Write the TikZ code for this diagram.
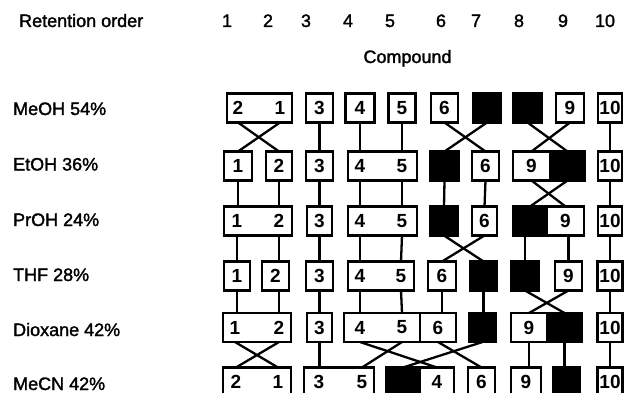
\documentclass[tikz,border=0pt]{standalone}
\usepackage{fontspec}
\setmainfont{Liberation Sans}
\newfontfamily\medsans[FakeBold=1.6]{Liberation Sans}
\newcommand\bxfont{\fontsize{19}{21}\selectfont\bfseries}
\newcommand\lbfont{\fontsize{18}{20}\selectfont\medsans}
\begin{document}
\begin{tikzpicture}[x=1pt,y=-1pt,line width=2.3pt,
  wb/.style={draw,fill=white,minimum height=29pt,inner sep=0pt,outer sep=0pt,font=\bxfont},
  bb/.style={draw,fill=black,minimum height=29pt,inner sep=0pt,outer sep=0pt},
  tx/.style={inner sep=0pt,font=\bxfont},
  lab/.style={inner sep=0pt,anchor=base west,font=\lbfont},
  hd/.style={inner sep=0pt,anchor=base,font=\lbfont},
  conn/.style={line width=2.3pt}]
\useasboundingbox (0,0) rectangle (626,393);
% header
\node[lab] (hro) at (18,27) {Retention order};
\node[hd] (h1) at (227,27) {1};
\node[hd] (h2) at (268,27) {2};
\node[hd] (h3) at (306,27) {3};
\node[hd] (h4) at (348,27) {4};
\node[hd] (h5) at (390,27) {5};
\node[hd] (h6) at (441,27) {6};
\node[hd] (h7) at (476,27) {7};
\node[hd] (h8) at (519,27) {8};
\node[hd] (h9) at (563,27) {9};
\node[hd] (h10) at (605,27) {10};
\node[hd] (hc) at (407.5,63) {Compound};
% row labels
\node[lab] (l1) at (12,115) {MeOH 54\%};
\node[lab] (l2) at (12,170.5) {EtOH 36\%};
\node[lab] (l3) at (12,226) {PrOH 24\%};
\node[lab] (l4) at (12,281) {THF 28\%};
\node[lab] (l5) at (12,336) {Dioxane 42\%};
\node[lab] (l6) at (12,390) {MeCN 42\%};
% row 1
\node[wb,minimum width=65pt] (r1a) at (259.5,108) {};
\node[tx] (r1a2) at (238,108) {2};
\node[tx] (r1a1) at (280,108) {1};
\node[wb,minimum width=27pt] (r1b) at (319.5,108) {3};
\node[wb,minimum width=29pt] (r1c) at (360,108) {4};
\node[wb,minimum width=27pt] (r1d) at (402,108) {5};
\node[wb,minimum width=27pt] (r1e) at (444.5,108) {6};
\node[bb,minimum width=28pt] (r1f) at (487,108) {};
\node[bb,minimum width=29pt] (r1g) at (527.5,108) {};
\node[wb,minimum width=28pt] (r1h) at (570,108) {9};
\node[wb,minimum width=24pt] (r1i) at (610,108) {10};
% row 2
\node[wb,minimum width=28pt] (r2a) at (238,166) {1};
\node[wb,minimum width=26pt] (r2b) at (279,166) {2};
\node[wb,minimum width=27pt] (r2c) at (319.5,166) {3};
\node[wb,minimum width=69pt] (r2d) at (382.5,166) {};
\node[tx] (r2d4) at (360,166) {4};
\node[tx] (r2d5) at (402,166) {5};
\node[bb,minimum width=29pt] (r2e) at (444.5,166) {};
\node[wb,minimum width=27pt] (r2f) at (485.5,166) {6};
\node[wb,minimum width=37pt] (r2g) at (531.5,166) {9};
\node[bb,minimum width=35pt] (r2h) at (567.5,166) {};
\node[wb,minimum width=24pt] (r2i) at (610,166) {10};
% row 3
\node[wb,minimum width=68pt] (r3a) at (258,221) {};
\node[tx] (r3a1) at (237,221) {1};
\node[tx] (r3a2) at (279,221) {2};
\node[wb,minimum width=25pt] (r3b) at (319.5,221) {3};
\node[wb,minimum width=69pt] (r3c) at (382.5,221) {};
\node[tx] (r3c4) at (360,221) {4};
\node[tx] (r3c5) at (402,221) {5};
\node[bb,minimum width=28pt] (r3d) at (444,221) {};
\node[wb,minimum width=25pt] (r3e) at (484.5,221) {6};
\node[bb,minimum width=34pt] (r3f) at (530,221) {};
\node[wb,minimum width=37pt] (r3g) at (565.5,221) {9};
\node[wb,minimum width=24pt] (r3h) at (610,221) {10};
% row 4
\node[wb,minimum width=26pt] (r4a) at (237,276) {1};
\node[wb,minimum width=27pt] (r4b) at (275.5,276) {2};
\node[wb,minimum width=27pt] (r4c) at (319.5,276) {3};
\node[wb,minimum width=66pt] (r4d) at (381,276) {};
\node[tx] (r4d4) at (360,276) {4};
\node[tx] (r4d5) at (401,276) {5};
\node[wb,minimum width=28pt] (r4e) at (442,276) {6};
\node[bb,minimum width=27pt] (r4f) at (483.5,276) {};
\node[bb,minimum width=28pt] (r4g) at (525,276) {};
\node[wb,minimum width=27pt] (r4h) at (568.5,276) {9};
\node[wb,minimum width=25pt] (r4i) at (610,276) {10};
% row 5
\node[wb,minimum width=68pt] (r5a) at (257,327.5) {};
\node[tx] (r5a1) at (235,327.5) {1};
\node[tx] (r5a2) at (279,327.5) {2};
\node[wb,minimum width=25pt] (r5b) at (319.5,327.5) {3};
\node[wb,minimum width=76pt] (r5c) at (382,327.5) {};
\node[tx] (r5c4) at (360,327.5) {4};
\node[tx] (r5c5) at (402,327.5) {5};
\node[wb,minimum width=36pt] (r5d) at (438,327.5) {6};
\node[bb,minimum width=27pt] (r5e) at (482.5,327.5) {};
\node[wb,minimum width=36pt] (r5f) at (529,327.5) {9};
\node[bb,minimum width=35pt] (r5g) at (564.5,327.5) {};
\node[wb,minimum width=25pt] (r5h) at (610,327.5) {10};
% row 6
\node[wb,minimum width=68pt] (r6a) at (257,382) {};
\node[tx] (r6a2) at (236,382) {2};
\node[tx] (r6a1) at (278,382) {1};
\node[wb,minimum width=70pt] (r6b) at (339,382) {};
\node[tx] (r6b3) at (319,382) {3};
\node[tx] (r6b5) at (362,382) {5};
\node[bb,minimum width=34pt] (r6c) at (403,382) {};
\node[wb,minimum width=34pt] (r6d) at (437,382) {4};
\node[wb,minimum width=27pt] (r6e) at (481.5,382) {6};
\node[wb,minimum width=30pt] (r6f) at (526,382) {9};
\node[bb,minimum width=27pt] (r6g) at (566.5,382) {};
\node[wb,minimum width=25pt] (r6h) at (610,382) {10};
% connectors row1 -> row2
\draw[conn] (r1a2 |- r1a.south) -- (r2b.north);
\draw[conn] (r1a1 |- r1a.south) -- (r2a.north);
\draw[conn] (r1b.south) -- (r2c.north);
\draw[conn] (r1c.south) -- (r2d4 |- r2d.north);
\draw[conn] (r1d.south) -- (r2d5 |- r2d.north);
\draw[conn] (r1e.south) -- (r2f.north);
\draw[conn] (r1f.south) -- (r2e.north);
\draw[conn] (r1g.south) -- (r2h.north);
\draw[conn] (r1h.south) -- (r2g.north);
\draw[conn] (r1i.south) -- (r2i.north);
% row2 -> row3
\draw[conn] (r2a.south) -- (r2a |- r3a.north);
\draw[conn] (r2b.south) -- (r2b |- r3a.north);
\draw[conn] (r2c.south) -- (r3b.north);
\draw[conn] (r2d4 |- r2d.south) -- (r3c4 |- r3c.north);
\draw[conn] (r2d5 |- r2d.south) -- (r3c5 |- r3c.north);
\draw[conn] (r2e.south) -- (r3d.north);
\draw[conn] (r2f.south) -- (r3e.north);
\draw[conn] (r2g.south) -- (r3g.north);
\draw[conn] (r2h.south) -- (r3f.north);
\draw[conn] (r2i.south) -- (r3h.north);
% row3 -> row4
\draw[conn] (r3a1 |- r3a.south) -- (r4a.north);
\draw[conn] (r3a2 |- r3a.south) -- (r3a2 |- r4b.north);
\draw[conn] (r3b.south) -- (r4c.north);
\draw[conn] (r3c4 |- r3c.south) -- (r4d4 |- r4d.north);
\draw[conn] (r3c5 |- r3c.south) -- (r4d5 |- r4d.north);
\draw[conn] (r3d.south) -- (r4f.north);
\draw[conn] (r3e.south) -- (r4e.north);
\draw[conn] (r4g |- r3f.south) -- (r4g.north);
\draw[conn] (r4h |- r3g.south) -- (r4h.north);
\draw[conn] (r3h.south) -- (r4i.north);
% row4 -> row5
\draw[conn] (r4a.south) -- (r4a |- r5a.north);
\draw[conn] (r5a2 |- r4b.south) -- (r5a2 |- r5a.north);
\draw[conn] (r4c.south) -- (r5b.north);
\draw[conn] (r4d4 |- r4d.south) -- (r5c4 |- r5c.north);
\draw[conn] (r4d5 |- r4d.south) -- (r5c5 |- r5c.north);
\draw[conn] (r4e.south) -- (r4e |- r5d.north);
\draw[conn] (r4f.south) -- (r4f |- r5e.north);
\draw[conn] (r4g.south) -- (r5g.north);
\draw[conn] (r4h.south) -- (r5f.north);
\draw[conn] (r4i.south) -- (r5h.north);
% row5 -> row6
\draw[conn] (r5a1 |- r5a.south) -- (r6a1 |- r6a.north);
\draw[conn] (r5a2 |- r5a.south) -- (r6a2 |- r6a.north);
\draw[conn] (r5b.south) -- (r5b |- r6b.north);
\draw[conn] (r5c4 |- r5c.south) -- (r6d.north);
\draw[conn] (r5c5 |- r5c.south) -- (r6b5 |- r6b.north);
\draw[conn] (r5d.south) -- (r6e.north);
\draw[conn] (r5e.south) -- (r6c.north);
\draw[conn] (r5f.south) -- (r5f |- r6f.north);
\draw[conn] (r5g.south) -- (r5g |- r6g.north);
\draw[conn] (r5h.south) -- (r6h.north);
\end{tikzpicture}
\end{document}
